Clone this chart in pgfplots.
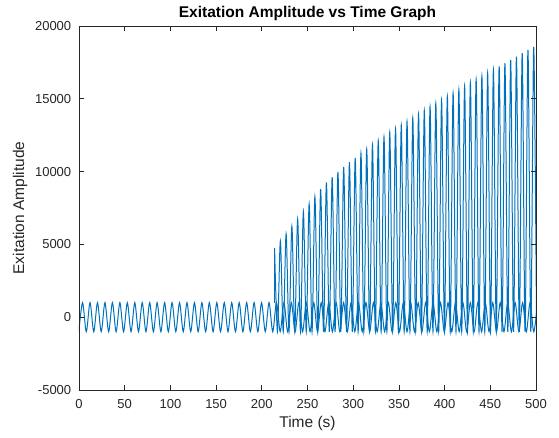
\documentclass[border=0pt]{standalone}
\usepackage{fontspec}
\setmainfont{Liberation Sans}
\usepackage{pgfplots}
\pgfplotsset{compat=1.18}
\definecolor{mblue}{RGB}{0,114,189}
\definecolor{axgray}{RGB}{38,38,38}
\begin{document}
\begin{tikzpicture}
\begin{axis}[
  scale only axis,
  width=457bp, height=364bp,
  xmin=0, xmax=500, ymin=-5000, ymax=20000,
  xtick={0,50,...,500},
  xticklabels={0,50,100,150,200,250,300,350,400,450,500},
  ytick={-5000,0,5000,10000,15000,20000},
  yticklabels={-5000,0,5000,10000,15000,20000},
  scaled x ticks=false, scaled y ticks=false,
  tick align=inside,
  major tick length=4.6bp,
  minor tick num=0,
  axis line style={axgray, line width=0.8bp},
  every tick/.style={axgray, line width=0.8bp},
  tick label style={font=\fontsize{13bp}{15bp}\selectfont, text=axgray, inner sep=0pt},
  xticklabel style={anchor=north, yshift=-9.5bp},
  yticklabel style={anchor=east, xshift=-7.6bp},
  xlabel={Time (s)},
  xlabel style={font=\fontsize{15.5bp}{18bp}\selectfont, text=axgray, at={(axis description cs:0.5,0)}, anchor=north, inner sep=0pt, yshift=-26bp},
  title={\bfseries Exitation Amplitude vs Time Graph},
  title style={font=\fontsize{15.5bp}{18bp}\selectfont, at={(axis description cs:0.5,1)}, anchor=center, inner sep=0pt, yshift=7bp},
  axis on top,
  clip=true,
]
\addplot[mblue, line width=1bp, smooth] coordinates {
(-0.18,-1000) (3.90,1000) (7.98,-1000) (12.06,1000) (16.14,-1000) (20.22,1000) (24.30,-1000) (28.38,1000) (32.46,-1000) (36.54,1000) (40.62,-1000) (44.70,1000) (48.78,-1000) (52.86,1000) (56.94,-1000) (61.02,1000) (65.10,-1000) (69.18,1000) (73.26,-1000) (77.34,1000) (81.42,-1000) (85.50,1000) (89.58,-1000) (93.66,1000) (97.74,-1000) (101.82,1000) (105.90,-1000) (109.98,1000) (114.06,-1000) (118.14,1000) (122.22,-1000) (126.30,1000) (130.38,-1000) (134.46,1000) (138.54,-1000) (142.62,1000) (146.70,-1000) (150.78,1000) (154.86,-1000) (158.94,1000) (163.02,-1000) (167.10,1000) (171.18,-1000) (175.26,1000) (179.34,-1000) (183.42,1000) (187.50,-1000) (191.58,1000) (195.66,-1000) (199.74,1000) (203.82,-1000) (207.90,1000)
(211.98,-1000) (216.06,1000) (220.14,-1000) (224.22,1000) (228.30,-1000) (232.38,1000) (236.46,-1000) (240.54,1000) (244.62,-1000) (248.70,1000) (252.78,-1000) (256.86,1000) (260.94,-1000) (265.02,1000) (269.10,-1000) (273.18,1000) (277.26,-1000) (281.34,1000) (285.42,-1000) (289.50,1000) (293.58,-1000) (297.66,1000) (301.74,-1000) (305.82,1000) (309.90,-1000) (313.98,1000) (318.06,-1000) (322.14,1000) (326.22,-1000) (330.30,1000) (334.38,-1000) (338.46,1000) (342.54,-1000) (346.62,1000) (350.70,-1000) (354.78,1000) (358.86,-1000) (362.94,1000) (367.02,-1000) (371.10,1000) (375.18,-1000) (379.26,1000) (383.34,-1000) (387.42,1000) (391.50,-1000) (395.58,1000) (399.66,-1000) (403.74,1000) (407.82,-1000) (411.90,1000) (415.98,-1000) (420.06,1000) (424.14,-1000) (428.22,1000) (432.30,-1000) (436.38,1000) (440.46,-1000) (444.54,1000) (448.62,-1000) (452.70,1000) (456.78,-1000) (460.86,1000) (464.94,-1000) (469.02,1000) (473.10,-1000) (477.18,1000) (481.26,-1000) (485.34,1000) (489.42,-1000) (493.50,1000) (497.58,-1000) (501.66,1000)
};
\addplot[mblue, line width=1bp] coordinates {(214.0,1000) (214.0,4730)};
\addplot[mblue, line width=1bp, smooth] coordinates {
(214.0,4730) (217.15,-1000)
(220.3,5230) (223.45,-1000)
(226.6,5720) (229.75,-1000)
(232.9,6240) (236.05,-1000)
(239.2,6740) (242.35,-1000)
(245.5,7250) (248.65,-1000)
(251.8,7770) (254.95,-1000)
(258.1,8280) (261.25,-1000)
(264.4,8800) (267.55,-1000)
(270.7,9250) (273.85,-1000)
(277.0,9610) (280.15,-1000)
(283.3,9970) (286.45,-1000)
(289.6,10320) (292.75,-1000)
(295.9,10640) (299.05,-1000)
(302.2,10940) (305.35,-1000)
(308.5,11260) (311.65,-1000)
(314.8,11550) (317.95,-1000)
(321.1,11850) (324.25,-1000)
(327.4,12120) (330.55,-1000)
(333.7,12400) (336.85,-1000)
(340.0,12700) (343.15,-1000)
(346.3,12950) (349.45,-1000)
(352.6,13200) (355.75,-1000)
(358.9,13450) (362.05,-1000)
(365.2,13700) (368.35,-1000)
(371.5,13950) (374.65,-1000)
(377.8,14210) (380.95,-1000)
(384.1,14460) (387.25,-1000)
(390.4,14690) (393.55,-1000)
(396.7,14920) (399.85,-1000)
(403.0,15170) (406.15,-1000)
(409.3,15400) (412.45,-1000)
(415.6,15650) (418.75,-1000)
(421.9,15880) (425.05,-1000)
(428.2,16110) (431.35,-1000)
(434.5,16340) (437.65,-1000)
(440.8,16570) (443.95,-1000)
(447.1,16780) (450.25,-1000)
(453.4,17000) (456.55,-1000)
(459.7,17230) (462.85,-1000)
(466.0,17440) (469.15,-1000)
(472.3,17670) (475.45,-1000)
(478.6,17890) (481.75,-1000)
(484.9,18130) (488.05,-1000)
(491.2,18350) (494.35,-1000)
(497.5,18560) (500.65,-1000)
};
\coordinate (sw) at (rel axis cs:0,0);
\coordinate (ne) at (rel axis cs:1,1);
\coordinate (lm) at (rel axis cs:0,0.5);
\end{axis}
\node[rotate=90, font=\fontsize{15.5bp}{18bp}\selectfont, text=axgray, inner sep=0pt] at ([xshift=-59bp]lm) {Exitation Amplitude};
\pgfresetboundingbox
\path ([shift={(-79bp,-48bp)}]sw) rectangle ([shift={(23bp,26bp)}]ne);
\end{tikzpicture}
\end{document}
